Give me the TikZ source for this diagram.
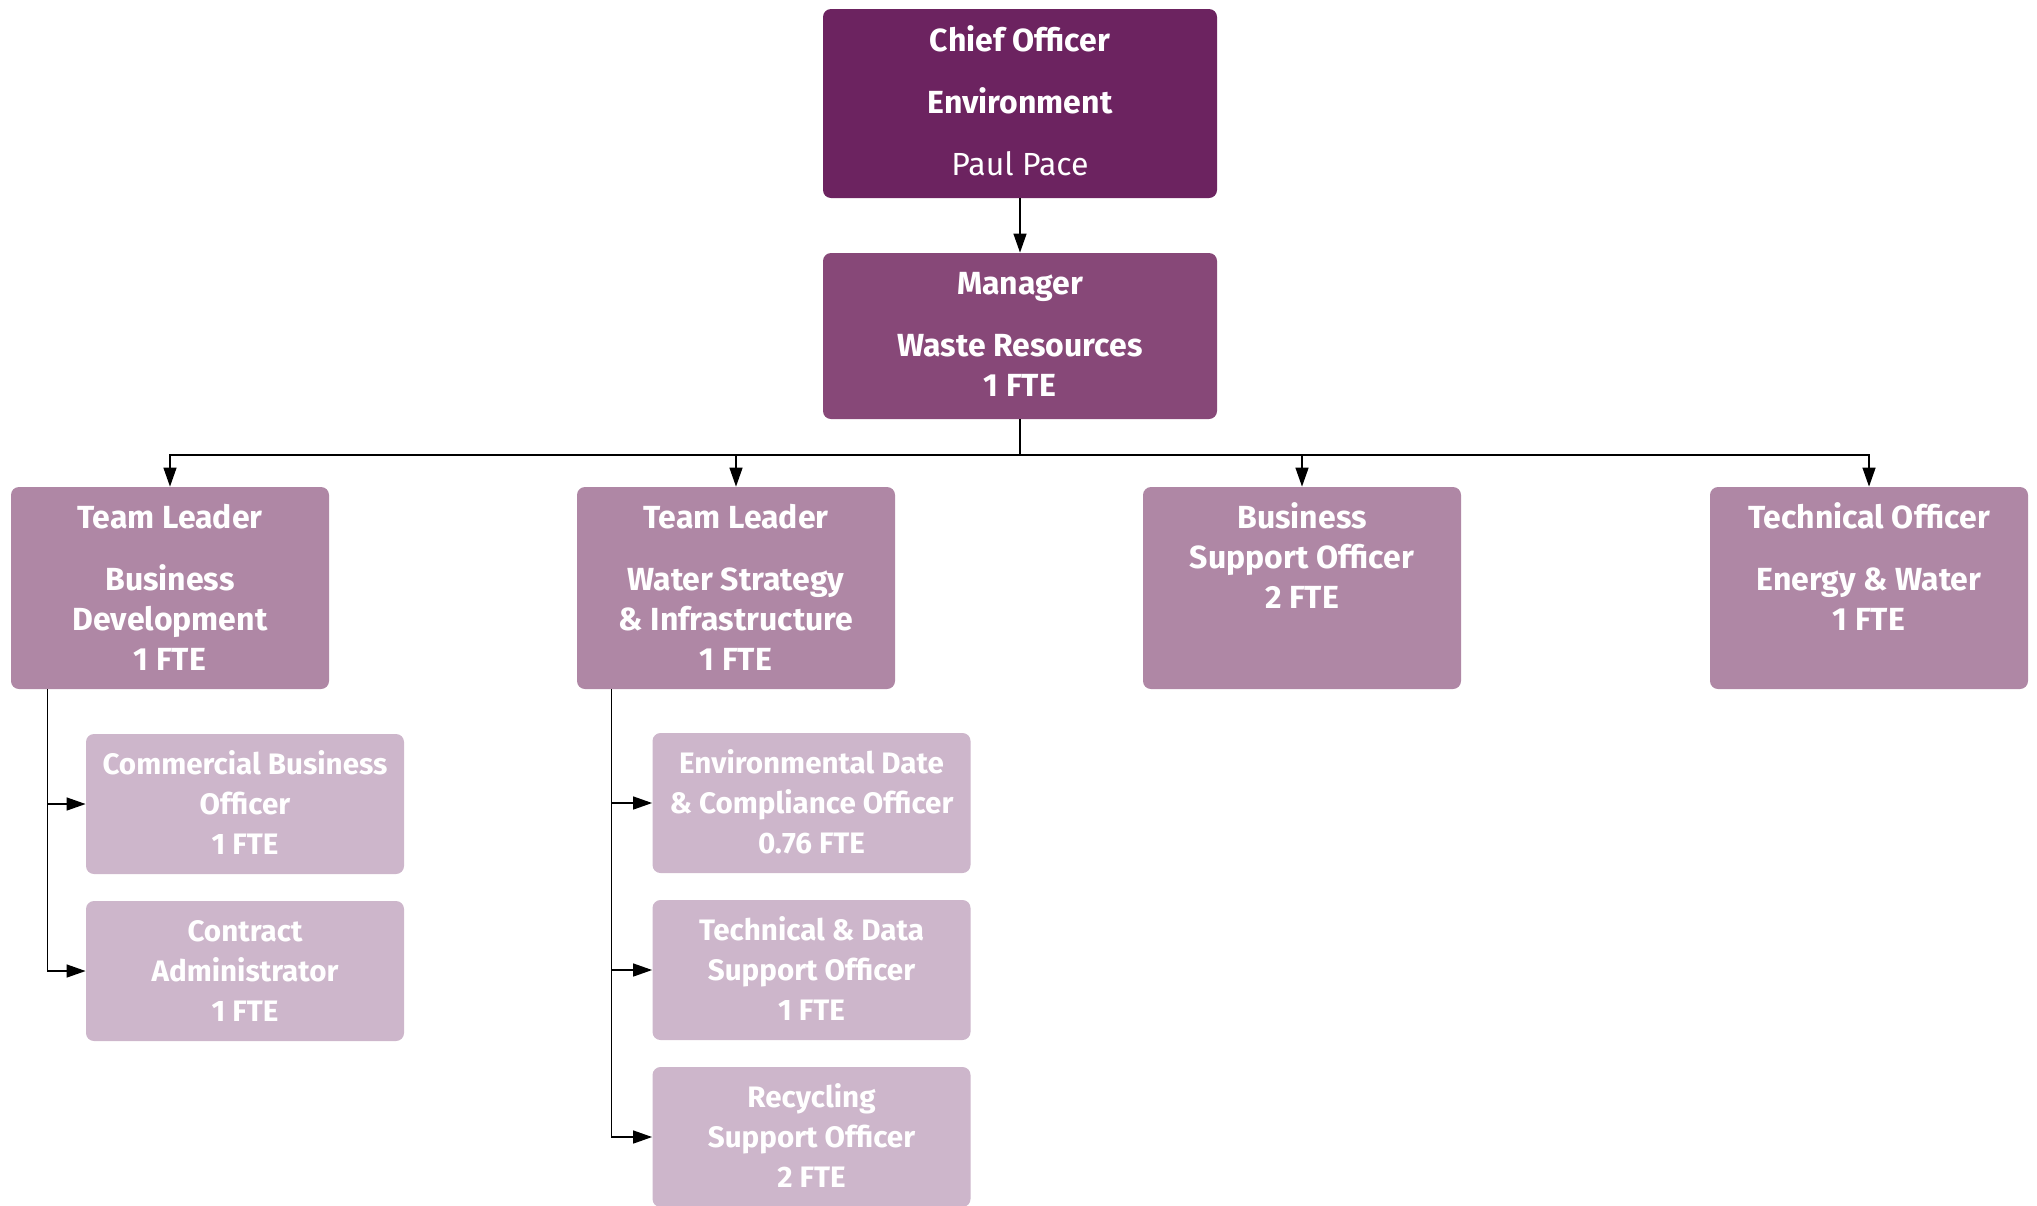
\documentclass[tikz,border=0pt]{standalone}
\usepackage{fontspec}
\setmainfont{Fira Sans}
\usetikzlibrary{arrows.meta}

\definecolor{chiefc}{RGB}{108,35,96}
\definecolor{mgrc}{RGB}{135,72,120}
\definecolor{leadc}{RGB}{175,135,165}
\definecolor{staffc}{RGB}{205,182,203}

% text block whose first baseline sits at the node's base anchor
\newcommand\roletext[1]{\parbox[t]{220pt}{\centering\fontsize{16}{20}\selectfont\bfseries #1}}
\newcommand\stafftext[1]{\parbox[t]{220pt}{\centering\fontsize{14.8}{20}\selectfont\bfseries #1}}

\begin{document}
\begin{tikzpicture}[x=0.5pt,y=-0.5pt,
  card/.style={rounded corners=4pt, inner sep=0pt, minimum width=159pt},
  chiefbox/.style={card, fill=chiefc, minimum width=197pt, minimum height=94.5pt},
  mgrbox/.style={card, fill=mgrc, minimum width=197pt, minimum height=83pt},
  leadbox/.style={card, fill=leadc, minimum height=101pt},
  staffbox/.style={card, fill=staffc, minimum height=70pt},
  role/.style={anchor=base, inner sep=0pt, text=white},
  link/.style={draw=black, line width=0.7pt},
  arr/.style={link, -{Triangle[length=9.5pt,width=6.5pt]}}
]
\useasboundingbox (0,0) rectangle (2037,1205);
\clip (0,0) rectangle (2037,1205);

% boxes
\node[chiefbox] (chief) at (1020,103.5) {};
\node[mgrbox]   (mgr)   at (1020,336) {};
\node[leadbox]  (tl1)   at (170,588) {};
\node[leadbox]  (tl2)   at (736,588) {};
\node[leadbox]  (bso)   at (1302,588) {};
\node[leadbox]  (teo)   at (1869,588) {};
\node[staffbox] (cbo)   at (245,804) {};
\node[staffbox] (cad)   at (245,971) {};
\node[staffbox] (edc)   at (811.5,803) {};
\node[staffbox] (tds)   at (811.5,970) {};
\node[staffbox] (rso)   at (811.5,1137) {};

% texts
\node[role] (chiefT) at ([yshift=-21.5pt]chief.north)
  {\roletext{Chief Officer\\[11pt]Environment\\[11pt]\mdseries Paul Pace}};
\node[role] (mgrT) at ([yshift=-21pt]mgr.north)
  {\roletext{Manager\\[11pt]Waste Resources\\1 FTE}};
\node[role] (tl1T) at ([yshift=-21pt]tl1.north)
  {\roletext{Team Leader\\[11pt]Business\\Development\\1 FTE}};
\node[role] (tl2T) at ([yshift=-21pt]tl2.north)
  {\roletext{Team Leader\\[11pt]Water Strategy\\\& Infrastructure\\1 FTE}};
\node[role] (bsoT) at ([yshift=-21pt]bso.north)
  {\roletext{Business\\Support Officer\\2 FTE}};
\node[role] (teoT) at ([yshift=-21pt]teo.north)
  {\roletext{Technical Officer\\[11pt]Energy \& Water\\1 FTE}};
\node[role] (cboT) at ([yshift=-20.5pt]cbo.north)
  {\stafftext{Commercial Business\\Officer\\1 FTE}};
\node[role] (cadT) at ([yshift=-20.5pt]cad.north)
  {\stafftext{Contract\\Administrator\\1 FTE}};
\node[role] (edcT) at ([yshift=-20.5pt]edc.north)
  {\stafftext{Environmental Date\\\& Compliance Officer\\0.76 FTE}};
\node[role] (tdsT) at ([yshift=-20.5pt]tds.north)
  {\stafftext{Technical \& Data\\Support Officer\\1 FTE}};
\node[role] (rsoT) at ([yshift=-20.5pt]rso.north)
  {\stafftext{Recycling\\Support Officer\\2 FTE}};

% reporting lines
\coordinate (bus) at (1020,455);
\coordinate (stemA) at ([xshift=18.5pt]tl1.south west);
\coordinate (stemB) at ([xshift=17.5pt]tl2.south west);

\draw[arr] (chief) -- (mgr);
\draw[link] (mgr.south) -- (bus);
\draw[arr] (bus) -| (tl1.north);
\draw[arr] (bus) -| (tl2.north);
\draw[arr] (bus) -| (bso.north);
\draw[arr] (bus) -| (teo.north);

\draw[arr] (stemA) |- (cbo.west);
\draw[arr] (stemA) |- (cad.west);
\draw[arr] (stemB) |- (edc.west);
\draw[arr] (stemB) |- (tds.west);
\draw[arr] (stemB) |- (rso.west);
\end{tikzpicture}
\end{document}
